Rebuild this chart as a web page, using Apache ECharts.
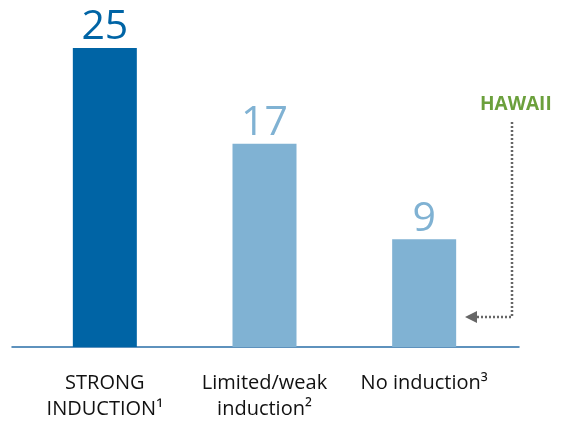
<!DOCTYPE html>
<html>
<head>
<meta charset="utf-8">
<script src="https://cdn.jsdelivr.net/npm/echarts@6/dist/echarts.min.js"></script>
<style>
html,body{margin:0;padding:0;background:#fff;}
#c{width:565px;height:425px;}
</style>
</head>
<body>
<div id="c"></div>
<script>
var categories = ['STRONG\nINDUCTION\u00b9', 'Limited/weak\ninduction\u00b2', 'No induction\u00b3'];
var values = [25, 17, 9];
var annotationText = 'HAWAII';

var barColors = ['#0064a5', '#80b2d3', '#80b2d3'];
var FONT = '"Open Sans", "Noto Sans", sans-serif';

var chart = echarts.init(document.getElementById('c'), null, {renderer: 'canvas'});
chart.setOption({
  animation: false,
  grid: [
    {left: 25, width: 479, top: 48, bottom: 78},
    {left: 12, width: 507, top: 48, bottom: 78}
  ],
  xAxis: [
    {
      type: 'category', gridIndex: 0, data: categories,
      axisLine: {show: false}, axisTick: {show: false},
      axisLabel: {
        margin: 23, color: '#111', fontFamily: FONT, fontSize: 20, lineHeight: 26,
        interval: 0, verticalAlign: 'top'
      }
    },
    {
      type: 'value', gridIndex: 1, min: 0, max: 1,
      axisLine: {show: true, lineStyle: {color: '#2a6fa8', width: 1.5}},
      axisTick: {show: false}, axisLabel: {show: false}, splitLine: {show: false}
    }
  ],
  yAxis: [
    {type: 'value', gridIndex: 0, min: 0, max: 25, show: false},
    {type: 'value', gridIndex: 1, min: 0, max: 1, show: false}
  ],
  series: [{
    type: 'bar', xAxisIndex: 0, yAxisIndex: 0,
    barWidth: 64,
    data: values.map(function (v, i) {
      return {
        value: v,
        itemStyle: {color: barColors[i]},
        label: {color: barColors[i]}
      };
    }),
    label: {
      show: true, position: 'top', distance: 0,
      fontFamily: FONT, fontSize: 41
    }
  }],
  graphic: [
    {
      type: 'text', left: 480, top: 95,
      style: {text: annotationText, fill: '#6ba03c', font: 'bold 19px ' + FONT}
    },
    {
      type: 'polyline',
      shape: {points: [[512, 122], [512, 317], [476, 317]]},
      style: {stroke: '#666', lineWidth: 2.5, lineDash: [2, 2], fill: null}
    },
    {
      type: 'polygon',
      shape: {points: [[465, 317], [477, 311], [477, 323]]},
      style: {fill: '#666'}
    }
  ]
});
</script>
</body>
</html>
